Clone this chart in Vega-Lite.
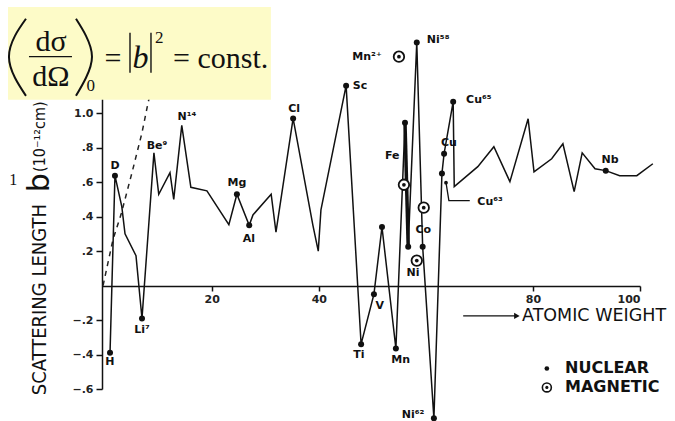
{
  "$schema": "https://vega.github.io/schema/vega-lite/v6.json",
  "width": 538,
  "height": 293,
  "autosize": {"type": "none"},
  "padding": {"left": 102, "top": 96, "right": 35, "bottom": 32},
  "background": "white",
  "config": {"view": {"stroke": null}},
  "datasets": {
    "nuclear": [
      {"seq": 1, "A": 1.0, "b": -0.39, "dot": 1},
      {"seq": 2, "A": 1.92, "b": 0.638, "dot": 1},
      {"seq": 3, "A": 3.2, "b": 0.458, "dot": 0},
      {"seq": 4, "A": 3.8, "b": 0.3, "dot": 0},
      {"seq": 5, "A": 5.85, "b": 0.174, "dot": 0},
      {"seq": 6, "A": 6.97, "b": -0.191, "dot": 1},
      {"seq": 7, "A": 9.2, "b": 0.77, "dot": 0},
      {"seq": 8, "A": 10.1, "b": 0.53, "dot": 0},
      {"seq": 9, "A": 12.2, "b": 0.655, "dot": 0},
      {"seq": 10, "A": 12.9, "b": 0.5, "dot": 0},
      {"seq": 11, "A": 14.4, "b": 0.93, "dot": 0},
      {"seq": 12, "A": 16.1, "b": 0.57, "dot": 0},
      {"seq": 13, "A": 19.1, "b": 0.55, "dot": 0},
      {"seq": 14, "A": 23.2, "b": 0.354, "dot": 0},
      {"seq": 15, "A": 24.7, "b": 0.53, "dot": 1},
      {"seq": 16, "A": 27.0, "b": 0.35, "dot": 1},
      {"seq": 17, "A": 27.7, "b": 0.41, "dot": 0},
      {"seq": 18, "A": 31.1, "b": 0.53, "dot": 0},
      {"seq": 19, "A": 32.0, "b": 0.31, "dot": 0},
      {"seq": 20, "A": 35.2, "b": 0.97, "dot": 1},
      {"seq": 21, "A": 38.9, "b": 0.35, "dot": 0},
      {"seq": 22, "A": 39.9, "b": 0.2, "dot": 0},
      {"seq": 23, "A": 40.4, "b": 0.44, "dot": 0},
      {"seq": 24, "A": 45.1, "b": 1.16, "dot": 1},
      {"seq": 25, "A": 47.9, "b": -0.34, "dot": 1},
      {"seq": 26, "A": 50.3, "b": -0.05, "dot": 1},
      {"seq": 27, "A": 51.8, "b": 0.34, "dot": 1},
      {"seq": 28, "A": 54.4, "b": -0.365, "dot": 1},
      {"seq": 29, "A": 56.1, "b": 0.945, "dot": 1},
      {"seq": 30, "A": 56.7, "b": 0.226, "dot": 1},
      {"seq": 31, "A": 58.3, "b": 1.41, "dot": 1},
      {"seq": 32, "A": 59.4, "b": 0.226, "dot": 1},
      {"seq": 33, "A": 61.5, "b": -0.77, "dot": 1},
      {"seq": 34, "A": 63.0, "b": 0.65, "dot": 1},
      {"seq": 35, "A": 63.4, "b": 0.765, "dot": 1},
      {"seq": 36, "A": 65.1, "b": 1.067, "dot": 1},
      {"seq": 37, "A": 65.3, "b": 0.574, "dot": 0},
      {"seq": 38, "A": 69.7, "b": 0.69, "dot": 0},
      {"seq": 39, "A": 72.7, "b": 0.806, "dot": 0},
      {"seq": 40, "A": 75.7, "b": 0.603, "dot": 0},
      {"seq": 41, "A": 79.1, "b": 0.968, "dot": 0},
      {"seq": 42, "A": 80.2, "b": 0.66, "dot": 0},
      {"seq": 43, "A": 83.5, "b": 0.736, "dot": 0},
      {"seq": 44, "A": 85.6, "b": 0.823, "dot": 0},
      {"seq": 45, "A": 87.7, "b": 0.545, "dot": 0},
      {"seq": 46, "A": 89.2, "b": 0.77, "dot": 0},
      {"seq": 47, "A": 91.6, "b": 0.678, "dot": 0},
      {"seq": 48, "A": 93.6, "b": 0.667, "dot": 1},
      {"seq": 49, "A": 96.2, "b": 0.638, "dot": 0},
      {"seq": 50, "A": 99.4, "b": 0.638, "dot": 0},
      {"seq": 51, "A": 102.4, "b": 0.707, "dot": 0}
    ],
    "dashed": [
      {"A": -0.3, "b": 0},
      {"A": 0.62, "b": 0.133},
      {"A": 1.55, "b": 0.267},
      {"A": 3.05, "b": 0.412},
      {"A": 5.1, "b": 0.655},
      {"A": 6.97, "b": 0.887},
      {"A": 8.1, "b": 1.06},
      {"A": 8.8, "b": 1.15}
    ],
    "magnetic": [
      {"name": "Mn2+", "A": 54.97, "b": 1.328},
      {"name": "Fe", "A": 55.9, "b": 0.585},
      {"name": "Co", "A": 59.6, "b": 0.452},
      {"name": "Ni", "A": 58.3, "b": 0.145}
    ],
    "thick": [{"A": 56.1, "b": 0.945, "A2": 56.7, "b2": 0.226}],
    "leader": [
      {"seq": 1, "A": 63.76, "b": 0.597},
      {"seq": 2, "A": 64.3, "b": 0.493},
      {"seq": 3, "A": 68.2, "b": 0.493}
    ],
    "labels": [
      {"text": "H", "A": 0.99, "b": -0.441},
      {"text": "D", "A": 1.92, "b": 0.696},
      {"text": "Li⁷", "A": 6.97, "b": -0.255},
      {"text": "Be⁹", "A": 9.77, "b": 0.812},
      {"text": "N¹⁴", "A": 15.37, "b": 0.98},
      {"text": "Mg", "A": 24.7, "b": 0.597},
      {"text": "Al", "A": 26.96, "b": 0.272},
      {"text": "Cl", "A": 35.4, "b": 1.026},
      {"text": "Sc", "A": 47.7, "b": 1.159},
      {"text": "Ti", "A": 47.5, "b": -0.4},
      {"text": "V", "A": 51.4, "b": -0.116},
      {"text": "Mn", "A": 55.3, "b": -0.429},
      {"text": "Fe", "A": 53.7, "b": 0.754},
      {"text": "Ni⁵⁸", "A": 62.3, "b": 1.426},
      {"text": "Mn²⁺", "A": 49.0, "b": 1.328},
      {"text": "Co", "A": 59.5, "b": 0.325},
      {"text": "Ni", "A": 57.6, "b": 0.075},
      {"text": "Ni⁶²", "A": 57.6, "b": -0.748},
      {"text": "Cu", "A": 64.3, "b": 0.829},
      {"text": "Cu⁶⁵", "A": 69.9, "b": 1.078},
      {"text": "Cu⁶³", "A": 72.0, "b": 0.487},
      {"text": "Nb", "A": 94.4, "b": 0.73}
    ],
    "legendSymbols": [
      {"kind": "nuclear", "A": 82.6, "b": -0.481},
      {"kind": "magnetic", "A": 82.6, "b": -0.591}
    ],
    "legendTexts": [
      {"text": "NUCLEAR", "A": 86.0, "b": -0.481},
      {"text": "MAGNETIC", "A": 86.0, "b": -0.591}
    ],
    "arrow": [{"A": 66.97, "A2": 76.66, "b": -0.176}],
    "arrowHead": [{"A": 77.0, "b": -0.176}],
    "xtitle": [{"text": "ATOMIC WEIGHT", "A": 77.96, "b": -0.176}],
    "ytitle": [
      {"part": "words", "text": "SCATTERING LENGTH", "A": -12.09, "b": -0.081},
      {"part": "symbol", "text": "b", "A": -12.09, "b": 0.597},
      {"part": "unit", "text": "(10⁻¹²cm)", "A": -12.09, "b": 0.864}
    ],
    "stray": [{"text": "1", "A": -17.1, "b": 0.614}],
    "box": [{"A": -18.06, "A2": 31.05, "b": 1.617, "b2": 1.078}],
    "fracbar": [{"A": -14.14, "A2": -6.11, "b": 1.328}],
    "absbars": [
      {"A": 4.73, "b": 1.467, "b2": 1.235},
      {"A": 8.65, "b": 1.467, "b2": 1.235}
    ],
    "parens": [
      {"side": "left", "seq": 1, "A": -14.7, "b": 1.548},
      {"side": "left", "seq": 2, "A": -16.76, "b": 1.449},
      {"side": "left", "seq": 3, "A": -17.88, "b": 1.328},
      {"side": "left", "seq": 4, "A": -16.76, "b": 1.206},
      {"side": "left", "seq": 5, "A": -14.7, "b": 1.101},
      {"side": "right", "seq": 1, "A": -5.36, "b": 1.548},
      {"side": "right", "seq": 2, "A": -3.49, "b": 1.449},
      {"side": "right", "seq": 3, "A": -2.37, "b": 1.328},
      {"side": "right", "seq": 4, "A": -3.49, "b": 1.206},
      {"side": "right", "seq": 5, "A": -5.36, "b": 1.101}
    ],
    "formula": [
      {"part": "frac", "text": "dσ", "A": -10.03, "b": 1.414},
      {"part": "frac", "text": "dΩ", "A": -10.03, "b": 1.212},
      {"part": "small", "text": "0", "A": -2.6, "b": 1.159},
      {"part": "small", "text": "2", "A": 10.2, "b": 1.438},
      {"part": "ital", "text": "b", "A": 6.7, "b": 1.264},
      {"part": "main", "text": "=", "A": 1.55, "b": 1.264},
      {"part": "tail", "text": "= const.", "A": 12.76, "b": 1.264}
    ]
  },
  "encoding": {
    "x": {
      "field": "A",
      "type": "quantitative",
      "scale": {"domain": [-0.5, 100], "nice": false, "zero": false},
      "axis": {
        "title": null,
        "offset": -103,
        "values": [20, 40, 80, 100],
        "grid": false,
        "domainColor": "#111",
        "domainWidth": 1.5,
        "tickColor": "#111",
        "tickWidth": 1.5,
        "tickSize": 5,
        "labelFont": "DejaVu Sans",
        "labelFontWeight": "bold",
        "labelFontSize": 11,
        "labelColor": "#222",
        "labelPadding": 2
      }
    },
    "y": {
      "field": "b",
      "type": "quantitative",
      "scale": {"domain": [-0.6, 1.1], "nice": false, "zero": false},
      "axis": {
        "title": null,
        "values": [-0.6, -0.4, -0.2, 0.2, 0.4, 0.6, 0.8, 1.0],
        "labelExpr": "datum.value > 0.99 ? '1.0' : replace(format(datum.value, '.1f'), '0.', '.')",
        "grid": false,
        "domainColor": "#111",
        "domainWidth": 1.5,
        "tickColor": "#111",
        "tickWidth": 1.5,
        "tickSize": 6,
        "labelFont": "DejaVu Sans",
        "labelFontWeight": "bold",
        "labelFontSize": 11,
        "labelColor": "#222",
        "labelPadding": 3
      }
    }
  },
  "layer": [
    {
      "data": {"name": "dashed"},
      "mark": {"type": "line", "color": "#222", "strokeWidth": 1.5, "strokeDash": [5, 5]}
    },
    {
      "data": {"name": "nuclear"},
      "mark": {"type": "line", "color": "#111", "strokeWidth": 1.5},
      "encoding": {"order": {"field": "seq", "type": "quantitative"}}
    },
    {
      "data": {"name": "thick"},
      "mark": {"type": "rule", "color": "#111", "strokeWidth": 3.5},
      "encoding": {"x2": {"field": "A2"}, "y2": {"field": "b2"}}
    },
    {
      "data": {"name": "leader"},
      "mark": {"type": "line", "color": "#111", "strokeWidth": 1.3},
      "encoding": {"order": {"field": "seq", "type": "quantitative"}}
    },
    {
      "data": {"name": "nuclear"},
      "transform": [{"filter": "datum.dot == 1"}],
      "mark": {"type": "point", "shape": "circle", "filled": true, "color": "#111", "size": 36, "opacity": 1}
    },
    {
      "data": {"name": "leader"},
      "transform": [{"filter": "datum.seq == 1"}],
      "mark": {"type": "point", "shape": "circle", "filled": true, "color": "#111", "size": 14, "opacity": 1}
    },
    {
      "data": {"name": "magnetic"},
      "mark": {"type": "point", "shape": "circle", "filled": true, "fill": "white", "stroke": "#111", "strokeWidth": 1.8, "size": 110, "opacity": 1}
    },
    {
      "data": {"name": "magnetic"},
      "mark": {"type": "point", "shape": "circle", "filled": true, "color": "#111", "size": 14, "opacity": 1}
    },
    {
      "data": {"name": "labels"},
      "mark": {"type": "text", "font": "DejaVu Sans", "fontWeight": "bold", "fontSize": 11, "color": "#111", "align": "center", "baseline": "middle"},
      "encoding": {"text": {"field": "text"}}
    },
    {
      "data": {"name": "legendSymbols"},
      "transform": [{"filter": "datum.kind == 'nuclear'"}],
      "mark": {"type": "point", "shape": "circle", "filled": true, "color": "#111", "size": 22, "opacity": 1}
    },
    {
      "data": {"name": "legendSymbols"},
      "transform": [{"filter": "datum.kind == 'magnetic'"}],
      "mark": {"type": "point", "shape": "circle", "filled": true, "fill": "white", "stroke": "#111", "strokeWidth": 1.6, "size": 80, "opacity": 1}
    },
    {
      "data": {"name": "legendSymbols"},
      "transform": [{"filter": "datum.kind == 'magnetic'"}],
      "mark": {"type": "point", "shape": "circle", "filled": true, "color": "#111", "size": 10, "opacity": 1}
    },
    {
      "data": {"name": "legendTexts"},
      "mark": {"type": "text", "font": "DejaVu Sans", "fontWeight": "bold", "fontSize": 16, "color": "#111", "align": "left", "baseline": "middle"},
      "encoding": {"text": {"field": "text"}}
    },
    {
      "data": {"name": "arrow"},
      "mark": {"type": "rule", "color": "#111", "strokeWidth": 1.3},
      "encoding": {"x2": {"field": "A2"}}
    },
    {
      "data": {"name": "arrowHead"},
      "mark": {"type": "point", "shape": "triangle-right", "filled": true, "color": "#111", "size": 40, "opacity": 1}
    },
    {
      "data": {"name": "xtitle"},
      "mark": {"type": "text", "font": "DejaVu Sans", "fontSize": 17.5, "color": "#111", "align": "left", "baseline": "middle"},
      "encoding": {"text": {"field": "text"}}
    },
    {
      "data": {"name": "ytitle"},
      "transform": [{"filter": "datum.part == 'words'"}],
      "mark": {"type": "text", "font": "DejaVu Sans Condensed", "fontSize": 20, "color": "#111", "align": "center", "baseline": "middle", "angle": 270},
      "encoding": {"text": {"field": "text"}}
    },
    {
      "data": {"name": "ytitle"},
      "transform": [{"filter": "datum.part == 'symbol'"}],
      "mark": {"type": "text", "font": "DejaVu Sans", "fontSize": 30, "color": "#111", "align": "center", "baseline": "middle", "angle": 270},
      "encoding": {"text": {"field": "text"}}
    },
    {
      "data": {"name": "ytitle"},
      "transform": [{"filter": "datum.part == 'unit'"}],
      "mark": {"type": "text", "font": "DejaVu Sans Condensed", "fontSize": 16, "color": "#111", "align": "center", "baseline": "middle", "angle": 270},
      "encoding": {"text": {"field": "text"}}
    },
    {
      "data": {"name": "stray"},
      "mark": {"type": "text", "font": "Liberation Serif", "fontSize": 16, "color": "#111", "align": "center", "baseline": "middle"},
      "encoding": {"text": {"field": "text"}}
    },
    {
      "data": {"name": "box"},
      "mark": {"type": "rect", "fill": "#fdfbc8", "stroke": null},
      "encoding": {"x2": {"field": "A2"}, "y2": {"field": "b2"}}
    },
    {
      "data": {"name": "fracbar"},
      "mark": {"type": "rule", "color": "#111", "strokeWidth": 1.3},
      "encoding": {"x2": {"field": "A2"}}
    },
    {
      "data": {"name": "absbars"},
      "mark": {"type": "rule", "color": "#111", "strokeWidth": 1.4},
      "encoding": {"y2": {"field": "b2"}}
    },
    {
      "data": {"name": "parens"},
      "mark": {"type": "line", "color": "#111", "strokeWidth": 2, "interpolate": "natural"},
      "encoding": {
        "order": {"field": "seq", "type": "quantitative"},
        "detail": {"field": "side", "type": "nominal"}
      }
    },
    {
      "data": {"name": "formula"},
      "transform": [{"filter": "datum.part == 'frac'"}],
      "mark": {"type": "text", "font": "Liberation Serif", "fontSize": 30, "color": "#111", "align": "center", "baseline": "middle"},
      "encoding": {"text": {"field": "text"}}
    },
    {
      "data": {"name": "formula"},
      "transform": [{"filter": "datum.part == 'small'"}],
      "mark": {"type": "text", "font": "Liberation Serif", "fontSize": 17, "color": "#111", "align": "center", "baseline": "middle"},
      "encoding": {"text": {"field": "text"}}
    },
    {
      "data": {"name": "formula"},
      "transform": [{"filter": "datum.part == 'ital'"}],
      "mark": {"type": "text", "font": "Liberation Serif", "fontStyle": "italic", "fontSize": 32, "color": "#111", "align": "center", "baseline": "alphabetic"},
      "encoding": {"text": {"field": "text"}}
    },
    {
      "data": {"name": "formula"},
      "transform": [{"filter": "datum.part == 'main'"}],
      "mark": {"type": "text", "font": "Liberation Serif", "fontSize": 30, "color": "#111", "align": "center", "baseline": "alphabetic"},
      "encoding": {"text": {"field": "text"}}
    },
    {
      "data": {"name": "formula"},
      "transform": [{"filter": "datum.part == 'tail'"}],
      "mark": {"type": "text", "font": "Liberation Serif", "fontSize": 30, "color": "#111", "align": "left", "baseline": "alphabetic"},
      "encoding": {"text": {"field": "text"}}
    }
  ]
}
